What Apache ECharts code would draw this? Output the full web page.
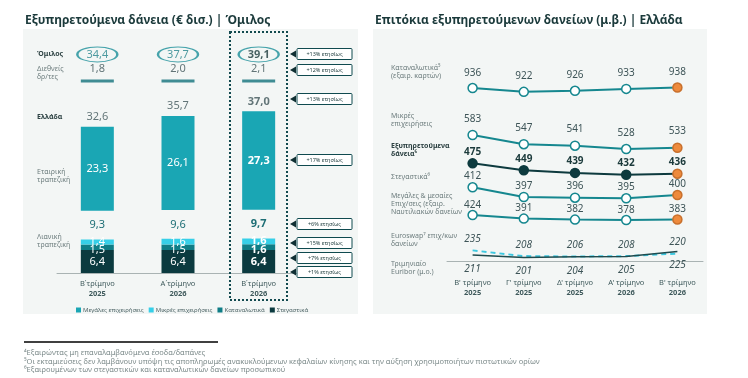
<!DOCTYPE html>
<html>
<head>
<meta charset="utf-8">
<script src="https://cdn.jsdelivr.net/npm/echarts@6/dist/echarts.min.js"></script>
<style>
	html, body {margin:0; padding:0; background:#ffffff;}
	#chart {width:748px; height:378px;}
</style>
</head>
<body>
<div id="chart"></div>
<script>
// left panel: loans (€ bn)
var leftCats = ['Β΄τρίμηνο\n2025', 'Α΄τρίμηνο\n2026', 'Β΄τρίμηνο\n2026'];
var housing = [6.4, 6.4, 6.4];
var consumer = [1.5, 1.5, 1.6];
var smallBiz = [1.4, 1.6, 1.6];
var retailTotal = [9.3, 9.6, 9.7];
var largeBiz = [23.3, 26.1, 27.3];
var greeceTotal = [32.6, 35.7, 37.0];
var intlTotal = [1.8, 2.0, 2.1];
var groupTotal = [34.4, 37.7, 39.1];
var yoyLabels = ['+13% ετησίως', '+12% ετησίως', '+13% ετησίως', '+17% ετησίως', '+6% ετησίως', '+15% ετησίως', '+7% ετησίως', '+1% ετησίως'];

// right panel: rates (bps)
var rightCats = ["Β' τρίμηνο\n2025", "Γ' τρίμηνο\n2025", "Δ' τρίμηνο\n2025", "Α' τρίμηνο\n2026", "Β' τρίμηνο\n2026"];
var consumerRate = [936, 922, 926, 933, 938];
var smallRate = [583, 547, 541, 528, 533];
var performingRate = [475, 449, 439, 432, 436];
var mortgageRate = [412, 397, 396, 395, 400];
var largeRate = [424, 391, 382, 378, 383];
var euroswap = [235, 208, 206, 208, 220];
var euribor = [211, 201, 204, 205, 225];

var FONT = '"Noto Sans", sans-serif';
var GAP = 8;          // empty band between retail and corporate stacks
var INTL_ROW = 53.3;  // row of the international marker
var GROUP_ROW = 60.7; // row of the group ellipse
var ORANGE = '#ee8a3c';
var CLEAR = 'rgba(0,0,0,0)';

var myChart = echarts.init(document.getElementById('chart'));

function num(v){ return v.toFixed(1).replace('.', ','); }
function boldLast(arr){
	return arr.map(function(v, i){ return {value: v, label: {fontWeight: i == 2 ? 'bold' : 'normal'}}; });
}
function lastOrange(arr, base){
	return arr.map(function(v, i){
		return i == arr.length - 1 ? {value: v, itemStyle: {color: ORANGE, borderColor: '#c8702c'}} : {value: v, itemStyle: {color: base}};
	});
}
function catLabel(v){
	var p = v.split('\n');
	return '{a|' + p[0] + '}\n{b|' + p[1] + '}';
}
function txt(x, y, s, opt){
	opt = opt || {};
	return {type: 'text', x: x, y: y, z: 5, style: {text: s, font: (opt.bold ? 'bold ' : '') + (opt.size || 7) + 'px ' + FONT,
		fill: opt.color || '#6d7d7e', verticalAlign: 'middle', align: opt.align || 'left', lineHeight: opt.lh || 8}};
}

function draw(){
	var stackTop = largeBiz.map(function(v, i){ return housing[i] + consumer[i] + smallBiz[i] + GAP + v; });
	var barLbl = {show: true, position: 'inside', color: '#ffffff', fontSize: 11, fontFamily: FONT, formatter: function(p){ return num(p.value); }};
	var axisRich = {a: {fontSize: 7.5, color: '#3f5a5c', lineHeight: 10}, b: {fontSize: 7.5, fontWeight: 'bold', color: '#3f5a5c', lineHeight: 10}};
	var noteStyle = {size: 7.5, color: '#7d8b8b'};

	var annY = [54, 70, 99, 160, 224, 243, 258, 272];
	var graphics = [
		{type: 'rect', z: -1, shape: {x: 23, y: 29, width: 335, height: 285}, style: {fill: '#f3f6f5'}},
		{type: 'rect', z: -1, shape: {x: 373, y: 29, width: 334, height: 285}, style: {fill: '#f3f6f5'}},
		txt(25, 21, 'Εξυπηρετούμενα δάνεια (€ δισ.) | Όμιλος', {bold: true, size: 12, color: '#1b3a3b'}),
		txt(375, 21, 'Επιτόκια εξυπηρετούμενων δανείων (μ.β.) | Ελλάδα', {bold: true, size: 12, color: '#1b3a3b'}),
		txt(37, 54, 'Όμιλος', {bold: true, color: '#2d4243'}),
		txt(37, 73, 'Διεθνείς\nδρ/τες'),
		txt(37, 117, 'Ελλάδα', {bold: true, color: '#2d4243'}),
		txt(37, 175.5, 'Εταιρική\nτραπεζική'),
		txt(37, 241, 'Λιανική\nτραπεζική'),
		{type: 'rect', z: 5, shape: {x: 230, y: 32, width: 57, height: 268}, style: {fill: null, stroke: '#124a4f', lineWidth: 2, lineDash: [2, 2]}},
		txt(391, 72, 'Καταναλωτικά⁵\n(εξαιρ. καρτών)'),
		txt(391, 120, 'Μικρές\nεπιχειρήσεις'),
		txt(391, 150, 'Εξυπηρετούμενα\nδάνεια⁶', {bold: true, color: '#2d4243'}),
		txt(391, 177, 'Στεγαστικά⁶'),
		txt(391, 204, 'Μεγάλες & μεσαίες\nΕπιχ/σεις (εξαιρ.\nΝαυτιλιακών δανείων'),
		txt(391, 239.5, 'Euroswap⁷ επιχ/κων\nδανείων'),
		txt(391, 267.5, 'Τριμηνιαίο\nEuribor (μ.ο.)'),
		{type: 'line', z: 5, shape: {x1: 24, y1: 342, x2: 218, y2: 342}, style: {stroke: '#000000', lineWidth: 1.5}},
		txt(24, 353, '⁴Εξαιρώντας μη επαναλαμβανόμενα έσοδα/δαπάνες', noteStyle),
		txt(24, 361.5, '⁵Οι εκταμιεύσεις δεν λαμβάνουν υπόψη τις αποπληρωμές ανακυκλούμενων κεφαλαίων κίνησης και την αύξηση χρησιμοποιήτων πιστωτικών ορίων', noteStyle),
		txt(24, 370, '⁶Εξαιρουμένων των στεγαστικών και καταναλωτικών δανείων προσωπικού', noteStyle)
	];
	annY.forEach(function(y, i){
		graphics.push({type: 'polygon', z: 5, shape: {points: [[290, y], [296, y - 3.5], [296, y + 3.5]]}, style: {fill: '#0f2f33'}});
		graphics.push({type: 'rect', z: 5, shape: {x: 297, y: y - 5.5, width: 55, height: 11, r: 1}, style: {fill: '#ffffff', stroke: '#0f4a4f', lineWidth: 1}});
		graphics.push(txt(324.5, y, yoyLabels[i], {size: 5.5, color: '#1b3a3b', align: 'center'}));
	});

	var rateAxes = [[255, 1040], [46, 877], [65, 865], [281, 609], [-100, 1850], [133, 1133], [143, 991]];
	var yAxes = [{gridIndex: 0, type: 'value', min: 0, max: 67.5, show: false}];
	rateAxes.forEach(function(r){ yAxes.push({gridIndex: 1, type: 'value', min: r[0], max: r[1], show: false}); });

	function rateLine(name, data, axis, color, dist, opt){
		opt = opt || {};
		return {name: name, type: 'line', xAxisIndex: 1, yAxisIndex: axis, data: opt.plain ? data : lastOrange(data, opt.fill || '#ffffff'),
			symbol: 'circle', symbolSize: opt.plain ? 1 : 9, showAllSymbol: true,
			lineStyle: {color: color, width: opt.width || 2, type: opt.dash ? [5, 4] : 'solid'},
			itemStyle: opt.plain ? {color: CLEAR, borderColor: CLEAR} : {color: opt.fill || '#ffffff', borderColor: color, borderWidth: 1.5},
			label: {show: true, position: opt.below ? 'bottom' : 'top', distance: dist, fontSize: 10, fontFamily: FONT,
				color: opt.labelColor || '#3d5457', fontWeight: opt.bold ? 'bold' : 'normal', fontStyle: opt.italic ? 'italic' : 'normal'}};
	}

	var option = {
		animation: false,
		textStyle: {fontFamily: FONT},
		grid: [
			{left: 57, width: 242, top: 30, bottom: 105},
			{left: 447, right: 45, top: 60, bottom: 106}
		],
		legend: {data: ['Μεγάλες επιχειρήσεις', 'Μικρές επιχειρήσεις', 'Καταναλωτικά', 'Στεγαστικά'], left: 71, top: 302,
			icon: 'rect', itemWidth: 5, itemHeight: 5, itemGap: 5, textStyle: {fontSize: 6, color: '#4d6466', padding: [0, 0, 0, -3]}},
		xAxis: [
			{gridIndex: 0, type: 'category', data: leftCats, axisTick: {show: false}, axisLine: {lineStyle: {color: '#a9b3b3'}},
				axisLabel: {margin: 6, interval: 0, formatter: catLabel, rich: axisRich}},
			{gridIndex: 1, type: 'category', data: rightCats, axisTick: {show: false}, axisLine: {lineStyle: {color: '#a9b3b3'}},
				axisLabel: {margin: 6, interval: 0, formatter: catLabel, rich: axisRich}}
		],
		yAxis: yAxes,
		series: [
			{name: 'Στεγαστικά', type: 'bar', stack: 'loans', barWidth: 33, data: boldLast(housing), itemStyle: {color: '#0b3a3f'},
				label: Object.assign({}, barLbl)},
			{name: 'Καταναλωτικά', type: 'bar', stack: 'loans', data: boldLast(consumer), itemStyle: {color: '#0f7d86'},
				label: Object.assign({}, barLbl, {offset: [0, 3]})},
			{name: 'Μικρές επιχειρήσεις', type: 'bar', stack: 'loans', data: boldLast(smallBiz), itemStyle: {color: '#36cfe8'},
				label: Object.assign({}, barLbl, {offset: [0, 0]})},
			{name: 'gap', type: 'bar', stack: 'loans', data: boldLast(retailTotal.map(function(){ return GAP; })), itemStyle: {color: CLEAR},
				label: Object.assign({}, barLbl, {color: '#1d6e75', formatter: function(p){ return num(retailTotal[p.dataIndex]); }})},
			{name: 'Μεγάλες επιχειρήσεις', type: 'bar', stack: 'loans', data: boldLast(largeBiz), itemStyle: {color: '#1aa6b4'},
				label: Object.assign({}, barLbl)},
			{name: 'greece', type: 'scatter', symbolSize: 1, itemStyle: {color: CLEAR},
				data: stackTop.map(function(v, i){ return {value: [i, v], label: {fontWeight: i == 2 ? 'bold' : 'normal'}}; }),
				label: {show: true, position: 'top', distance: 4, fontSize: 11, color: '#3d5457', formatter: function(p){ return num(greeceTotal[p.dataIndex]); }}},
			{name: 'intl', type: 'scatter', symbol: 'rect', symbolSize: [33, 3], itemStyle: {color: '#11727b'},
				data: intlTotal.map(function(v, i){ return [i, INTL_ROW]; }),
				label: {show: true, position: 'top', distance: 5, fontSize: 11, color: '#3d5457', formatter: function(p){ return num(intlTotal[p.dataIndex]); }}},
			{name: 'group', type: 'scatter', symbol: 'circle', symbolSize: [40, 15], itemStyle: {color: '#f3f6f5', borderColor: '#1a8f99', borderWidth: 1.5},
				data: groupTotal.map(function(v, i){ return {value: [i, GROUP_ROW], label: {fontWeight: i == 2 ? 'bold' : 'normal', color: i == 2 ? '#1b3a3b' : '#23838b'}}; }),
				label: {show: true, position: 'inside', fontSize: 11, formatter: function(p){ return num(groupTotal[p.dataIndex]); }}},
			rateLine('r_consumer', consumerRate, 1, '#15878f', 5),
			rateLine('r_small', smallRate, 2, '#15878f', 6),
			rateLine('r_performing', performingRate, 3, '#0d3a3e', 1, {fill: '#0d3a3e', bold: true, labelColor: '#1b3a3b'}),
			rateLine('r_mortgage', mortgageRate, 4, '#15878f', 1),
			rateLine('r_large', largeRate, 5, '#15878f', 0),
			rateLine('r_euroswap', euroswap, 6, '#3cc8e0', 5, {plain: true, dash: true, italic: true}),
			rateLine('r_euribor', euribor, 7, '#1f4b4e', 8, {plain: true, width: 1.5, italic: true, below: true})
		],
		graphic: graphics
	};
	myChart.setOption(option, true);
}
draw();
</script>
</body>
</html>
